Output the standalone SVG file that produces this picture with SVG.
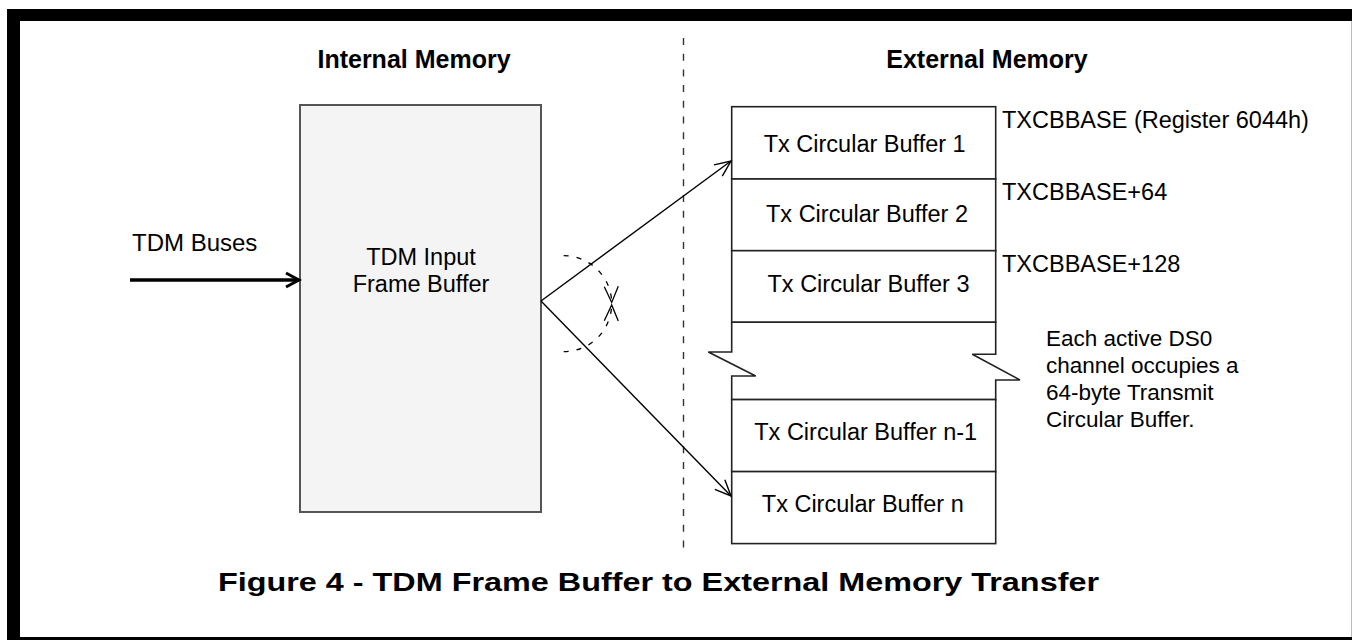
<svg xmlns="http://www.w3.org/2000/svg" width="1352" height="640" viewBox="0 0 1352 640">
  <style>
    text { font-family: "Liberation Sans", Arial, sans-serif; fill: #000; }
    .head { font-size: 25px; font-weight: bold; text-anchor: middle; }
    .cap { font-size: 26px; font-weight: bold; }
    .lbl { font-size: 23.5px; text-anchor: middle; }
    .addr { font-size: 23.5px; }
    .note { font-size: 22.5px; }
    .cell { fill: #fff; stroke: #222; stroke-width: 1.6; }
    .conn { fill: none; stroke: #000; stroke-width: 1.4; }
    .arc { fill: none; stroke: #000; stroke-width: 1.3; stroke-dasharray: 5 8; }
  </style>
  <defs>
    <marker id="open" viewBox="0 0 20 20" refX="18" refY="10" markerUnits="userSpaceOnUse" markerWidth="20" markerHeight="20" orient="auto">
      <path d="M2,3 L18,10 L2,17" fill="none" stroke="#000" stroke-width="1.4"/>
    </marker>
    <marker id="openThick" viewBox="0 0 20 20" refX="17" refY="10" markerUnits="userSpaceOnUse" markerWidth="20" markerHeight="20" orient="auto">
      <path d="M4,3 L17,10 L4,17" fill="none" stroke="#000" stroke-width="3"/>
    </marker>
    <marker id="tick" viewBox="0 0 20 20" refX="18" refY="10" markerUnits="userSpaceOnUse" markerWidth="20" markerHeight="20" orient="auto">
      <path d="M2,3 L18,10 L2,17" fill="none" stroke="#000" stroke-width="1.3" stroke-dasharray="none"/>
    </marker>
  </defs>

  <!-- page frame -->
  <rect x="7" y="9" width="1345" height="631" fill="#000"/>
  <rect x="20" y="21" width="1331" height="616" fill="#fff"/>
  <line x1="1351.5" y1="21" x2="1351.5" y2="637" stroke="#bbb" stroke-width="1"/>

  <!-- section headings and divider -->
  <text class="head" x="414" y="68">Internal Memory</text>
  <text class="head" x="987" y="68">External Memory</text>
  <line x1="683.5" y1="38" x2="683.5" y2="548" stroke="#333" stroke-width="1.4" stroke-dasharray="7 8.7"/>

  <!-- input frame buffer -->
  <g id="frame-buffer">
    <rect x="300" y="105" width="241" height="407" fill="#f4f4f4" stroke="#555" stroke-width="2"/>
    <text class="lbl" x="421" y="265">TDM Input</text>
    <text class="lbl" x="421" y="292">Frame Buffer</text>
  </g>

  <g id="tdm-buses">
    <text style="font-size:24px" x="132" y="251">TDM Buses</text>
  </g>

  <!-- external circular buffers -->
  <g id="buffer-1">
    <rect class="cell" x="731.7" y="106.7" width="264" height="72.3"/>
    <text class="lbl" x="864.7" y="152.3">Tx Circular Buffer 1</text>
  </g>
  <g id="buffer-2">
    <rect class="cell" x="731.7" y="179" width="264" height="71.7"/>
    <text class="lbl" x="867" y="221.7">Tx Circular Buffer 2</text>
  </g>
  <g id="buffer-3">
    <rect class="cell" x="731.7" y="250.7" width="264" height="71.6"/>
    <text class="lbl" x="868.5" y="291.7">Tx Circular Buffer 3</text>
  </g>
  <g id="buffer-gap">
    <path class="cell" d="M731.7,322.3 H995.7 V354.3 H972.3 L1020,380 H995.7 V399.6 H731.7 V376 H755.7 L708.3,352 H731.7 Z"/>
  </g>
  <g id="buffer-n-1">
    <rect class="cell" x="731.7" y="399.6" width="264" height="72"/>
    <text class="lbl" x="865.7" y="440">Tx Circular Buffer n-1</text>
  </g>
  <g id="buffer-n">
    <rect class="cell" x="731.7" y="471.6" width="264" height="72"/>
    <text class="lbl" x="862.8" y="511.7">Tx Circular Buffer n</text>
  </g>

  <!-- address annotations -->
  <g id="addresses">
    <text class="addr" x="1002" y="128">TXCBBASE (Register 6044h)</text>
    <text class="addr" x="1002" y="200">TXCBBASE+64</text>
    <text class="addr" x="1002" y="272">TXCBBASE+128</text>
  </g>

  <g id="note">
    <text class="note" x="1046" y="346">Each active DS0</text>
    <text class="note" x="1046" y="373">channel occupies a</text>
    <text class="note" x="1046" y="400">64-byte Transmit</text>
    <text class="note" x="1046" y="427">Circular Buffer.</text>
  </g>

  <!-- connectors -->
  <g id="connectors">
    <line x1="130" y1="280" x2="299" y2="280" stroke="#000" stroke-width="3.6" marker-end="url(#openThick)"/>
    <line class="conn" x1="541" y1="301" x2="731" y2="161" marker-end="url(#open)"/>
    <line class="conn" x1="541" y1="301" x2="731" y2="496" marker-end="url(#open)"/>
    <path class="arc" d="M563.7,255.7 A48,48 0 0 1 611.7,302.5" marker-end="url(#tick)"/>
    <path class="arc" d="M563.7,351.7 A48,48 0 0 0 611.7,304.9" marker-end="url(#tick)"/>
  </g>

  <!-- caption -->
  <text class="cap" x="218" y="591" textLength="881" lengthAdjust="spacingAndGlyphs">Figure 4 - TDM Frame Buffer to External Memory Transfer</text>
</svg>
